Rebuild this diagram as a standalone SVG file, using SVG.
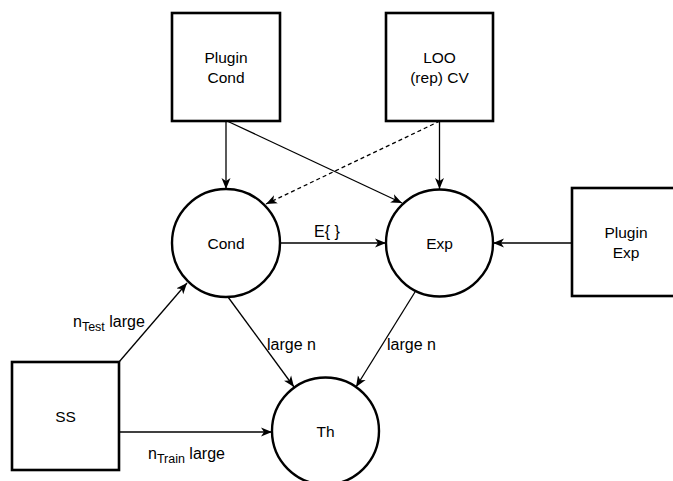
<svg xmlns="http://www.w3.org/2000/svg" width="673" height="481" viewBox="0 0 673 481">
<style>
.box{fill:#fff;stroke:#000;stroke-width:2.6}
.circ{fill:#fff;stroke:#000;stroke-width:2.4}
.edge{fill:none;stroke:#000;stroke-width:1.3}
.dash{stroke-dasharray:4 3}
text{font-family:"Liberation Sans",Arial,Helvetica,sans-serif;font-size:15.5px;fill:#000;text-anchor:middle}
.lbl{font-size:16px}
.sub{font-size:12.5px}
</style>
<defs>
<marker id="arr" markerUnits="userSpaceOnUse" markerWidth="12" markerHeight="10" viewBox="0 0 12 10" refX="11" refY="5" orient="auto">
<path d="M0,0.5 L11,5 L0,9.5 L3,5 Z" fill="#000"/>
</marker>
</defs>
<rect width="673" height="481" fill="#fff"/>
<g id="connectors">
<line class="edge" x1="226" y1="121" x2="226" y2="189" marker-end="url(#arr)"/>
<line class="edge" x1="227" y1="121" x2="402" y2="203" marker-end="url(#arr)"/>
<line class="edge" x1="439.5" y1="121" x2="439.5" y2="189" marker-end="url(#arr)"/>
<line class="edge dash" x1="440" y1="121" x2="266" y2="204" marker-end="url(#arr)"/>
<line class="edge" x1="280" y1="243" x2="386" y2="243" marker-end="url(#arr)"/>
<line class="edge" x1="572" y1="243" x2="493" y2="243" marker-end="url(#arr)"/>
<line class="edge" x1="119" y1="362" x2="187" y2="283" marker-end="url(#arr)"/>
<line class="edge" x1="119" y1="432" x2="272" y2="432" marker-end="url(#arr)"/>
<line class="edge" x1="228" y1="297" x2="294" y2="387" marker-end="url(#arr)"/>
<line class="edge" x1="415" y1="292" x2="356" y2="387" marker-end="url(#arr)"/>
<text class="lbl" x="327" y="237">E{ }</text>
<text class="lbl" x="291.5" y="350">large n</text>
<text class="lbl" x="411.5" y="350">large n</text>
<text class="lbl" x="73" y="327" style="text-anchor:start">n<tspan class="sub" dy="4">Test</tspan><tspan dy="-4"> large</tspan></text>
<text class="lbl" x="148" y="459" style="text-anchor:start">n<tspan class="sub" dy="4">Train</tspan><tspan dy="-4"> large</tspan></text>
</g>
<g id="plugin-cond">
<rect class="box" x="172" y="13" width="108" height="108"/>
<text x="226" y="63">Plugin</text>
<text x="226" y="83">Cond</text>
</g>
<g id="loo-cv">
<rect class="box" x="386" y="13" width="107" height="108"/>
<text x="439.5" y="63">LOO</text>
<text x="439.5" y="83">(rep) CV</text>
</g>
<g id="plugin-exp">
<rect class="box" x="572" y="188" width="108" height="108"/>
<text x="626" y="238">Plugin</text>
<text x="626" y="258">Exp</text>
</g>
<g id="ss">
<rect class="box" x="12" y="362" width="107" height="108"/>
<text x="65.5" y="421.5">SS</text>
</g>
<g id="cond">
<circle class="circ" cx="226" cy="243" r="54"/>
<text x="226" y="248.5">Cond</text>
</g>
<g id="exp">
<circle class="circ" cx="439.5" cy="243" r="53.5"/>
<text x="439.5" y="248.5">Exp</text>
</g>
<g id="th">
<circle class="circ" cx="325.5" cy="431" r="53.5"/>
<text x="325.5" y="436.5">Th</text>
</g>
</svg>
